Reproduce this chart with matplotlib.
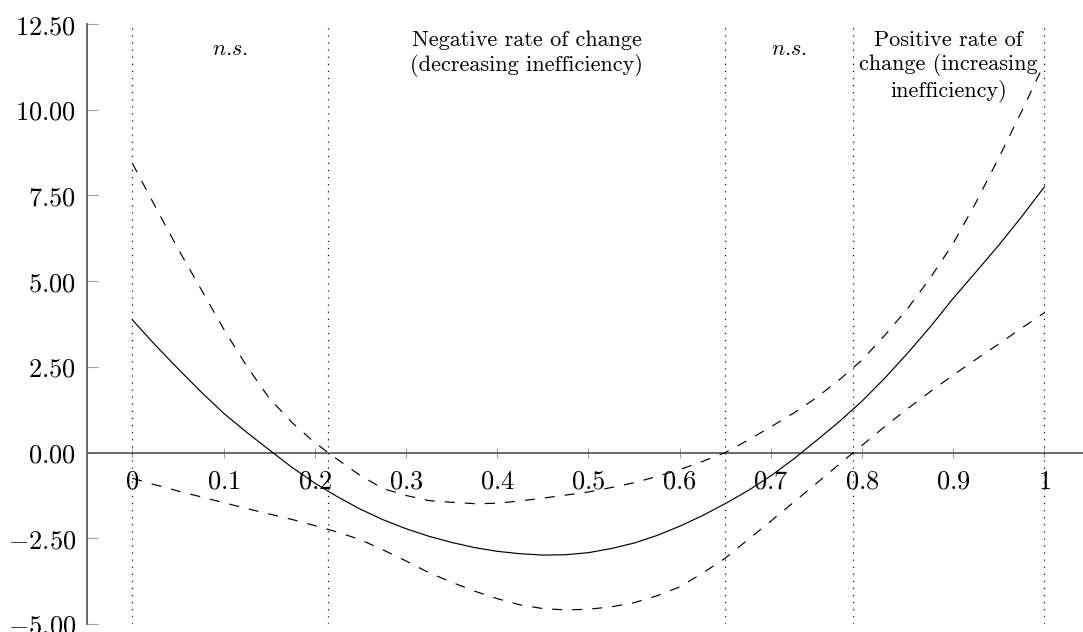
import matplotlib.pyplot as plt

plt.rcParams['mathtext.fontset'] = 'cm'

# estimated marginal effect and confidence band
x = [0.000, 0.025, 0.050, 0.075, 0.100, 0.125, 0.150, 0.175, 0.200, 0.225,
     0.250, 0.275, 0.300, 0.325, 0.350, 0.375, 0.400, 0.425, 0.450, 0.475,
     0.500, 0.525, 0.550, 0.575, 0.600, 0.625, 0.650, 0.675, 0.700, 0.725,
     0.750, 0.775, 0.800, 0.825, 0.850, 0.875, 0.900, 0.925, 0.950, 0.975, 1.000]
effect = [3.87, 3.14, 2.45, 1.78, 1.15, 0.60, 0.08, -0.43, -0.89, -1.29,
          -1.65, -1.96, -2.22, -2.44, -2.62, -2.77, -2.88, -2.95, -2.99, -2.98,
          -2.92, -2.80, -2.64, -2.42, -2.15, -1.84, -1.49, -1.11, -0.68, -0.19,
          0.35, 0.90, 1.50, 2.17, 2.90, 3.67, 4.50, 5.27, 6.05, 6.88, 7.75]
upper = [8.44, 7.18, 5.95, 4.78, 3.61, 2.54, 1.59, 0.88, 0.29, -0.20,
         -0.67, -1.05, -1.25, -1.40, -1.45, -1.49, -1.48, -1.41, -1.33, -1.24,
         -1.15, -1.02, -0.88, -0.70, -0.50, -0.26, 0.00, 0.36, 0.75, 1.15,
         1.60, 2.12, 2.70, 3.42, 4.20, 5.10, 6.10, 7.30, 8.60, 9.95, 11.35]
lower = [-0.75, -0.94, -1.12, -1.29, -1.46, -1.63, -1.79, -1.95, -2.13, -2.32,
         -2.54, -2.84, -3.16, -3.50, -3.78, -4.04, -4.26, -4.44, -4.55, -4.59,
         -4.57, -4.50, -4.38, -4.18, -3.92, -3.52, -3.08, -2.54, -2.00, -1.45,
         -0.90, -0.34, 0.21, 0.76, 1.28, 1.78, 2.26, 2.72, 3.17, 3.63, 4.08]

# region boundaries and their labels
bounds = [0, 0.215, 0.65, 0.79, 1.0]
region_labels = ['$n$.$s$.',
                 'Negative rate of change\n(decreasing inefficiency)',
                 '$n$.$s$.',
                 'Positive rate of\nchange (increasing\ninefficiency)']

yticks = [-5, -2.5, 0, 2.5, 5, 7.5, 10, 12.5]
xticks = [0, 0.1, 0.2, 0.3, 0.4, 0.5, 0.6, 0.7, 0.8, 0.9, 1]
xtick_labels = ['0', '0.1', '0.2', '0.3', '0.4', '0.5', '0.6', '0.7', '0.8', '0.9', '1']

fig = plt.figure(figsize=(10.83, 6.32), dpi=100)
ax = fig.add_axes([86.7 / 1083, 8 / 632, (1083 - 86.7) / 1083, 600 / 632])
ax.set_xlim(-0.05, 1.0423)
ax.set_ylim(-5, 12.5)

# region separators
ax.vlines(bounds, -5, 12.5, colors='black', linewidth=0.85,
          linestyles=[(0, (1, 5))], zorder=3)

ax.plot(x, effect, color='black', linewidth=0.85, zorder=4)
ax.plot(x, upper, color='black', linewidth=0.85, linestyle=(0, (8.5, 8.5)), zorder=4)
ax.plot(x, lower, color='black', linewidth=0.85, linestyle=(0, (8.5, 8.5)), zorder=4)

for i, lab in enumerate(region_labels):
    mid = (bounds[i] + bounds[i + 1]) / 2
    if lab.startswith('$'):
        ax.text(mid, 12.05, lab, ha='center', va='top', fontsize=16,
                fontfamily='cmr10')
    else:
        ax.text(mid, 12.3, lab, ha='center', va='top', fontsize=16,
                fontfamily='cmr10', linespacing=1.2)

# axis styling (pgfplots look: y axis at left, x axis through zero)
for side in ['top', 'right']:
    ax.spines[side].set_visible(False)
ax.spines['bottom'].set_position(('data', 0))
ax.spines['bottom'].set_color('#6a6a6a')
ax.spines['left'].set_color('#6a6a6a')
ax.spines['bottom'].set_linewidth(1.4)
ax.spines['left'].set_linewidth(1.4)

ax.set_yticks(yticks)
ax.set_yticklabels([f'${v:.2f}$' for v in yticks])
ax.set_xticks(xticks)
ax.set_xticklabels([f'${t}$' for t in xtick_labels])
ax.tick_params(axis='y', direction='in', length=8, width=0.8, color='#a0a0a0',
               labelsize=19, pad=7.5)
ax.tick_params(axis='x', direction='inout', length=7.2, width=0.8, color='#a0a0a0',
               labelsize=19, pad=8)

fig.savefig('out.png', dpi=100)
